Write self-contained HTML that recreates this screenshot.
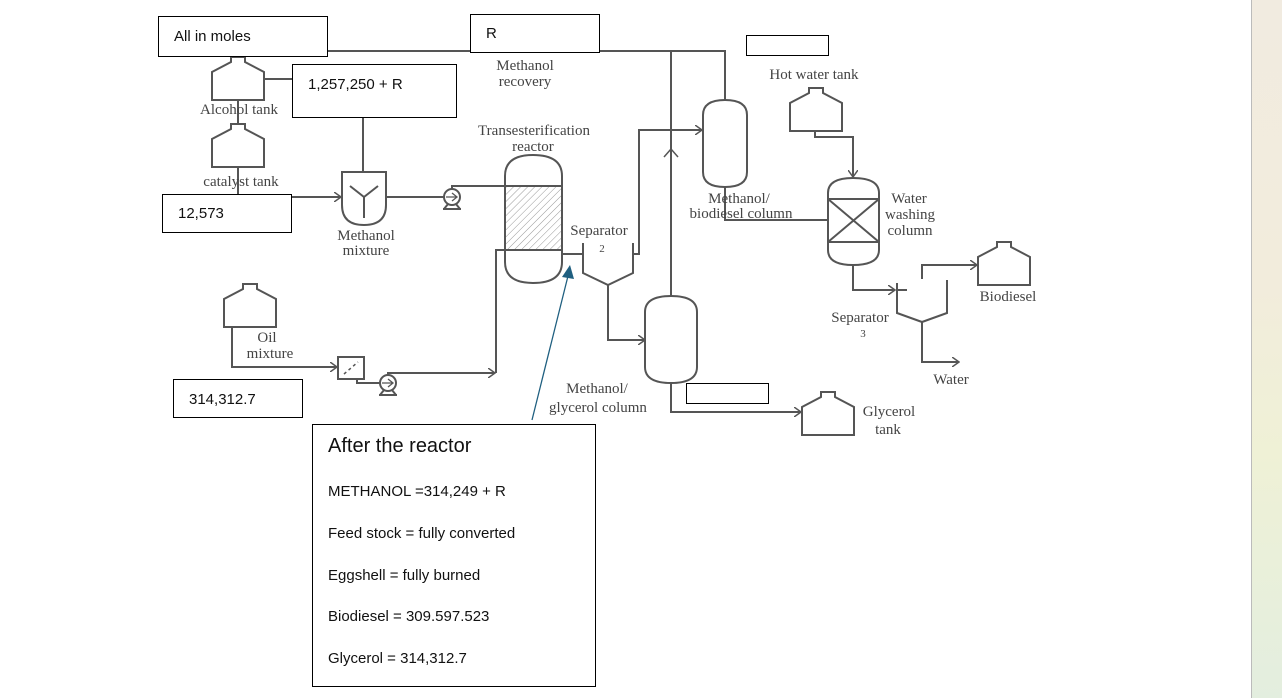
<!DOCTYPE html>
<html><head><meta charset="utf-8"><style>
html,body{margin:0;padding:0;background:#fff;}
body{width:1282px;height:698px;overflow:hidden;position:relative;}
.strip{position:absolute;left:1251px;top:0;width:31px;height:698px;border-left:1px solid #bbb;background:linear-gradient(#f1ebe0,#f2ecdc 40%,#eff1d6 65%,#e3eedf);}
svg{position:absolute;left:0;top:0;}
.s text{font-family:"Liberation Serif",serif;fill:#444;font-size:15px;text-anchor:middle;}
.b text{font-family:"Liberation Sans",sans-serif;fill:#111;font-size:15px;}
</style></head><body>
<div class="strip"></div>
<svg width="1250" height="698" viewBox="0 0 1250 698">
<defs>
<pattern id="h" width="5" height="5" patternUnits="userSpaceOnUse" patternTransform="rotate(45)"><line x1="0" y1="0" x2="0" y2="5" stroke="#999" stroke-width="1"/></pattern>
<marker id="a" markerWidth="8" markerHeight="10" refX="7" refY="5" orient="auto" markerUnits="userSpaceOnUse"><path d="M0,0 L7,5 L0,10" fill="none" stroke="#555" stroke-width="1.5"/></marker>
</defs>
<g fill="none" stroke="#555" stroke-width="2" class="s">
<path d="M212,100 V72 L231,62 V57 H245 V62 L264,72 V100 Z"/>
<path d="M212,167 V139 L231,129 V124 H245 V129 L264,139 V167 Z"/>
<path d="M224,327 V299 L243,289 V284 H257 V289 L276,299 V327 Z"/>
<path d="M790,131 V103 L809,93 V88 H823 V93 L842,103 V131 Z"/>
<path d="M978,285 V257 L997,247 V242 H1011 V247 L1030,257 V285 Z"/>
<path d="M802,435 V407 L821,397 V392 H835 V397 L854,407 V435 Z"/>
<path d="M238,100 V125 M238,167 V194"/>
<path d="M264,79 H292"/>
<path d="M328,51 H725 V100"/>
<path d="M671,51 V296"/>
<path d="M664,157 L671,149 L678,157" stroke-width="1.5"/>
<path d="M292,197 H341" marker-end="url(#a)"/>
<path d="M363,117 V172"/>
<path d="M342,172 V205 Q342,225 364,225 Q386,225 386,205 V172 Z"/>
<path d="M350,186 L364,197 L378,186 M364,197 V218"/>
<path d="M386,197 H444"/>
<circle cx="452" cy="197" r="8"/>
<path d="M446,197 H456 M452,193 L457,197 L452,201" stroke-width="1.3"/>
<path d="M444,209 L448,204 M460,209 L456,204 M443,209 H461" stroke-width="2"/>
<path d="M452,189 V186 H505"/>
<rect x="505" y="186" width="57" height="64" fill="url(#h)" stroke="none"/>
<path d="M505,176 Q505,155 533,155 Q562,155 562,176 V262 Q562,283 533,283 Q505,283 505,262 Z"/>
<path d="M505,186 H562 M505,250 H562"/>
<path d="M232,327 V367 H337" marker-end="url(#a)"/>
<rect x="338" y="357" width="26" height="22"/>
<path d="M344,374 L358,362" stroke-dasharray="3,3" stroke-width="1.5"/>
<path d="M357,379 V383 H380"/>
<circle cx="388" cy="383" r="8"/>
<path d="M382,383 H392 M388,379 L393,383 L388,387" stroke-width="1.3"/>
<path d="M380,395 L384,390 M396,395 L392,390 M379,395 H397"/>
<path d="M388,375 V373 H495" marker-end="url(#a)"/>
<path d="M496,373 V250 H505"/>
<path d="M562,254 H583"/>
<path d="M583,243 V273 L608,285 L633,273 V243"/>
<path d="M633,254 H639 V130 H702" marker-end="url(#a)"/>
<path d="M608,285 V340 H645" marker-end="url(#a)"/>
<path d="M703,115 Q703,100 725,100 Q747,100 747,115 V172 Q747,187 725,187 Q703,187 703,172 Z"/>
<path d="M725,187 V220 H828"/>
<path d="M645,312 Q645,296 671,296 Q697,296 697,312 V367 Q697,383 671,383 Q645,383 645,367 Z"/>
<path d="M671,383 V412 H801" marker-end="url(#a)"/>
<path d="M815,131 V137 H853 V177" marker-end="url(#a)"/>
<path d="M828,193 Q828,178 853,178 Q879,178 879,193 V250 Q879,265 853,265 Q828,265 828,250 Z"/>
<path d="M828,199 H879 M828,242 H879 M828,199 L879,242 M879,199 L828,242"/>
<path d="M853,265 V290 H895" marker-end="url(#a)"/>
<path d="M896,290 H907 M897,283 V290"/>
<path d="M897,290 V313 L922,322 L947,313 V280"/>
<path d="M922,279 V265 H977" marker-end="url(#a)"/>
<path d="M922,322 V362 H959" marker-end="url(#a)"/>
<g stroke="none">
<text x="525" y="70">Methanol</text><text x="525" y="86">recovery</text>
<text x="239" y="114">Alcohol tank</text>
<text x="241" y="186">catalyst tank</text>
<text x="366" y="240">Methanol</text><text x="366" y="255">mixture</text>
<text x="534" y="135">Transesterification</text><text x="533" y="151">reactor</text>
<text x="599" y="235">Separator</text><text x="602" y="252" style="font-size:11px">2</text>
<text x="814" y="79">Hot water tank</text>
<text x="739" y="203">Methanol/</text><text x="741" y="218">biodiesel column</text>
<text x="909" y="203">Water</text><text x="910" y="219">washing</text><text x="910" y="235">column</text>
<text x="1008" y="301">Biodiesel</text>
<text x="860" y="322">Separator</text><text x="863" y="337" style="font-size:11px">3</text>
<text x="951" y="384">Water</text>
<text x="267" y="342">Oil</text><text x="270" y="358">mixture</text>
<text x="597" y="393">Methanol/</text><text x="598" y="412">glycerol column</text>
<text x="889" y="416">Glycerol</text><text x="888" y="434">tank</text>
</g>
</g>
<line x1="532" y1="420" x2="568" y2="276" stroke="#1f5f80" stroke-width="1.3"/>
<path d="M570,265 L574,279 L562,277 Z" fill="#1f5f80"/>
<g class="b" stroke="#000" stroke-width="1">
<rect x="158.5" y="16.5" width="169" height="40" fill="#fff"/>
<rect x="470.5" y="14.5" width="129" height="38" fill="#fff"/>
<rect x="746.5" y="35.5" width="82" height="20" fill="#fff"/>
<rect x="292.5" y="64.5" width="164" height="53" fill="#fff"/>
<rect x="162.5" y="194.5" width="129" height="38" fill="#fff"/>
<rect x="173.5" y="379.5" width="129" height="38" fill="#fff"/>
<rect x="686.5" y="383.5" width="82" height="20" fill="#fff"/>
<rect x="312.5" y="424.5" width="283" height="262" fill="#fff"/>
<g stroke="none">
<text x="174" y="41">All in moles</text>
<text x="486" y="38">R</text>
<text x="308" y="89">1,257,250 + R</text>
<text x="178" y="218">12,573</text>
<text x="189" y="404">314,312.7</text>
<text x="328" y="452" style="font-size:20px">After the reactor</text>
<text x="328" y="496">METHANOL =314,249 + R</text>
<text x="328" y="538">Feed stock = fully converted</text>
<text x="328" y="580">Eggshell = fully burned</text>
<text x="328" y="621">Biodiesel = 309.597.523</text>
<text x="328" y="663">Glycerol = 314,312.7</text>
</g>
</g>
</svg>
</body></html>
